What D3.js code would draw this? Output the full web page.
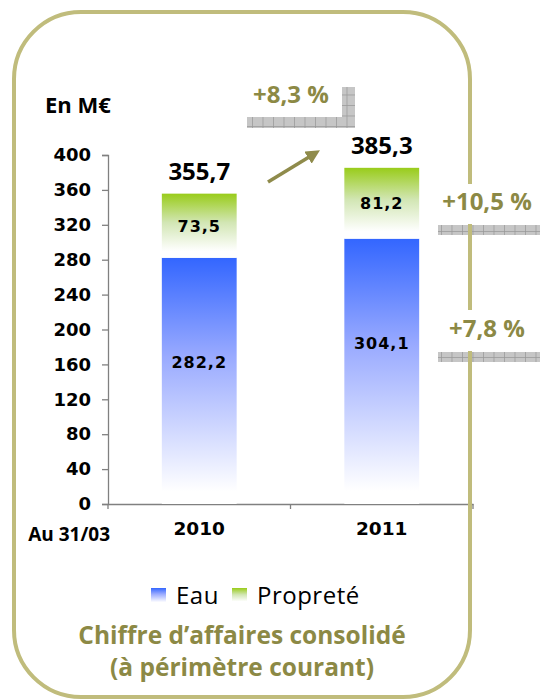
<!DOCTYPE html>
<html>
<head>
<meta charset="utf-8">
<script src="https://cdn.jsdelivr.net/npm/d3@7"></script>
<style>
	body { margin: 0; background: #fff; }
	svg { display: block; }
	.tick text { font-family: 'DejaVu Sans', Verdana, sans-serif; font-weight: bold; fill: #000; }
</style>
</head>
<body>
<div id="chart"></div>
<script>
// data
var years = ['2010', '2011'];
var eau = [282.2, 304.1];
var proprete = [73.5, 81.2];
var totals = [355.7, 385.3];
var yTicks = [0, 40, 80, 120, 160, 200, 240, 280, 320, 360, 400];
var seriesNames = ['Eau', 'Propreté'];
var growth = ['+8,3 %', '+10,5 %', '+7,8 %'];

var fmt = function(v) { return d3.format('.1f')(v).replace('.', ','); };

var W = 540, H = 699;
var olive = '#8c8945', frameColor = '#c0bc7c';

var svg = d3.select('#chart').append('svg')
	.attr('width', W)
	.attr('height', H);

var defs = svg.append('defs');

function vGradient(id, stops) {
	var g = defs.append('linearGradient')
		.attr('id', id)
		.attr('x1', 0).attr('y1', 0).attr('x2', 0).attr('y2', 1);
	stops.forEach(function(s) {
		g.append('stop').attr('offset', s[0]).attr('stop-color', s[1]);
	});
}
vGradient('gEau', [[0, '#3366ff'], [0.4, '#99aaff'], [0.95, '#ffffff']]);
vGradient('gProp', [[0, '#99cc1a'], [0.45, '#d2e6b4'], [0.9, '#ffffff']]);

// gray tiled pattern for the little brackets
var pat = defs.append('pattern')
	.attr('id', 'tile')
	.attr('patternUnits', 'userSpaceOnUse')
	.attr('width', 10.5).attr('height', 10.5);
pat.append('rect').attr('width', 10.5).attr('height', 10.5).attr('fill', '#c6c6c6');
pat.append('path').attr('d', 'M0,0.4H10.5M0.4,0V10.5')
	.attr('stroke', '#999').attr('stroke-width', 0.8);

var x = d3.scaleBand()
	.domain(years)
	.range([108, 473])
	.paddingInner(0.59)
	.paddingOuter(0.295);

var y = d3.scaleLinear()
	.domain([0, 400])
	.range([504, 155]);

// y axis
var yAxis = d3.axisLeft(y).tickValues(yTicks).tickSize(6).tickPadding(11);
var gy = svg.append('g')
	.attr('transform', 'translate(108,0)')
	.call(yAxis);
gy.selectAll('.domain, .tick line').attr('stroke', '#808080').attr('stroke-width', 1.3);
gy.selectAll('.tick text').style('font-size', '18px');

// x axis (ticks sit on the category boundaries)
var xAxis = d3.axisBottom(x).tickSize(0).tickPadding(18);
var gx = svg.append('g')
	.attr('transform', 'translate(0,504)')
	.call(xAxis);
gx.select('.domain').attr('stroke', '#808080').attr('stroke-width', 1.5);
gx.selectAll('.tick text').style('font-size', '18.5px').attr('dy', '0.71em');

var bounds = years.map(function(d) { return x(d) - (x.step() - x.bandwidth()) / 2; });
bounds.push(x.range()[1]);
gx.selectAll('.bound')
	.data(bounds)
	.enter().append('line')
	.attr('x1', function(d) { return d; })
	.attr('x2', function(d) { return d; })
	.attr('y1', 0).attr('y2', 5)
	.attr('stroke', '#808080').attr('stroke-width', 1.3);

svg.append('text')
	.attr('x', 110).attr('y', 541)
	.attr('text-anchor', 'end')
	.style('font-family', 'Open Sans, sans-serif')
	.style('font-weight', 'bold')
	.style('font-size', '19px')
	.text('Au 31/03');

svg.append('text')
	.attr('x', 45).attr('y', 113)
	.style('font-family', 'Open Sans, sans-serif')
	.style('font-weight', 'bold')
	.style('font-size', '22px')
	.text('En M€');

// bars
var bars = svg.selectAll('.year')
	.data(years)
	.enter().append('g')
	.attr('class', 'year');

bars.append('rect')
	.attr('x', function(d) { return x(d); })
	.attr('y', function(d, i) { return y(eau[i]); })
	.attr('width', x.bandwidth())
	.attr('height', function(d, i) { return y(0) - y(eau[i]); })
	.attr('fill', 'url(#gEau)');

bars.append('rect')
	.attr('x', function(d) { return x(d); })
	.attr('y', function(d, i) { return y(eau[i] + proprete[i]); })
	.attr('width', x.bandwidth())
	.attr('height', function(d, i) { return y(eau[i]) - y(eau[i] + proprete[i]); })
	.attr('fill', 'url(#gProp)');

var labelStyle = function(sel, size, spacing) {
	sel.attr('text-anchor', 'middle')
		.style('font-family', 'DejaVu Sans, Verdana, sans-serif')
		.style('font-weight', 'bold')
		.style('font-size', size)
		.style('letter-spacing', spacing);
};

bars.append('text')
	.attr('x', function(d) { return x(d) + x.bandwidth() / 2; })
	.attr('y', function(d, i) { return y(eau[i]) + 110; })
	.call(labelStyle, '16px', '1px')
	.text(function(d, i) { return fmt(eau[i]); });

bars.append('text')
	.attr('x', function(d) { return x(d) + x.bandwidth() / 2; })
	.attr('y', function(d, i) { return (y(eau[i]) + y(eau[i] + proprete[i])) / 2 + 6; })
	.call(labelStyle, '16px', '1px')
	.text(function(d, i) { return fmt(proprete[i]); });

bars.append('text')
	.attr('x', function(d) { return x(d) + x.bandwidth() / 2; })
	.attr('y', function(d, i) { return y(totals[i]) - 14; })
	.attr('text-anchor', 'middle')
	.style('font-family', 'Open Sans, sans-serif')
	.style('font-weight', 'bold')
	.style('font-size', '24px')
	.text(function(d, i) { return fmt(totals[i]); });

// growth arrow
defs.append('marker')
	.attr('id', 'head')
	.attr('viewBox', '0 0 10 10')
	.attr('refX', 5).attr('refY', 5)
	.attr('markerWidth', 4).attr('markerHeight', 4)
	.attr('orient', 'auto')
	.append('path')
	.attr('d', 'M0,0L10,5L0,10z')
	.attr('fill', '#8f8b4b');

svg.append('line')
	.attr('x1', 268).attr('y1', 182)
	.attr('x2', 314).attr('y2', 154)
	.attr('stroke', '#8f8b4b')
	.attr('stroke-width', 3.5)
	.attr('marker-end', 'url(#head)');

// brackets
svg.append('path')
	.attr('d', 'M247,117H342V87H355V128H247Z')
	.attr('fill', 'url(#tile)');
svg.append('rect').attr('x', 438).attr('y', 225).attr('width', 102).attr('height', 10).attr('fill', 'url(#tile)');
svg.append('rect').attr('x', 438).attr('y', 352).attr('width', 102).attr('height', 10).attr('fill', 'url(#tile)');

// frame
svg.append('rect')
	.attr('x', 14).attr('y', 12)
	.attr('width', 456).attr('height', 685)
	.attr('rx', 67).attr('ry', 67)
	.attr('fill', 'none')
	.attr('stroke', frameColor)
	.attr('stroke-width', 4);

svg.append('rect').attr('x', 438).attr('y', 184).attr('width', 102).attr('height', 40).attr('fill', '#fff');
svg.append('rect').attr('x', 438).attr('y', 310).attr('width', 102).attr('height', 41).attr('fill', '#fff');

var growthPos = [[291, 103], [487, 210], [487, 337]];
svg.selectAll('.growth')
	.data(growth)
	.enter().append('text')
	.attr('x', function(d, i) { return growthPos[i][0]; })
	.attr('y', function(d, i) { return growthPos[i][1]; })
	.attr('text-anchor', 'middle')
	.attr('fill', olive)
	.style('font-family', 'Open Sans, sans-serif')
	.style('font-weight', 'bold')
	.style('font-size', '24px')
	.text(function(d) { return d; });

// legend
var legend = svg.selectAll('.legend')
	.data(seriesNames)
	.enter().append('g')
	.attr('transform', function(d, i) { return 'translate(' + [151, 232][i] + ',588)'; });
legend.append('rect')
	.attr('width', 15).attr('height', 15)
	.attr('fill', function(d, i) { return i ? 'url(#gProp)' : 'url(#gEau)'; });
legend.append('text')
	.attr('x', 25).attr('y', 16)
	.style('font-family', 'Open Sans, sans-serif')
	.style('font-size', '24px')
	.style('letter-spacing', '0.5px')
	.text(function(d) { return d; });

// title
var titleLines = ['Chiffre d’affaires consolidé', '(à périmètre courant)'];
svg.selectAll('.title')
	.data(titleLines)
	.enter().append('text')
	.attr('x', 242)
	.attr('y', function(d, i) { return 644 + i * 32; })
	.attr('text-anchor', 'middle')
	.attr('fill', olive)
	.style('font-family', 'Open Sans, sans-serif')
	.style('font-weight', 'bold')
	.style('font-size', '24.5px')
	.text(function(d) { return d; });
</script>
</body>
</html>
